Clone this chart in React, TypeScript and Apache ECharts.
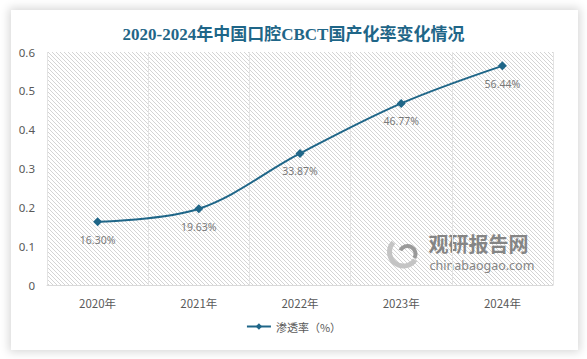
import React, { useEffect, useRef } from "react";
import * as echarts from "echarts";

const categories = ["2020年", "2021年", "2022年", "2023年", "2024年"];
const rates = [0.163, 0.1963, 0.3387, 0.4677, 0.5644];
const rateLabels = ["16.30%", "19.63%", "33.87%", "46.77%", "56.44%"];
const seriesName = "渗透率（%）";
const titleText = "2020-2024年中国口腔CBCT国产化率变化情况";

function makeHatch(): string {
  const c = document.createElement("canvas");
  c.width = 4;
  c.height = 4;
  const ctx = c.getContext("2d")!;
  ctx.fillStyle = "#ffffff";
  ctx.fillRect(0, 0, 4, 4);
  ctx.fillStyle = "#d4d4d4";
  for (let i = 0; i < 4; i++) ctx.fillRect(i, i, 1, 1);
  return c.toDataURL();
}

export default function App() {
  const ref = useRef<HTMLDivElement>(null);
  useEffect(() => {
    if (!ref.current) return;
    const chart = echarts.init(ref.current, null, { renderer: "svg" });
    const hatch = makeHatch();
    chart.setOption({
      animation: false,
      title: {
        text: titleText,
        left: "center",
        top: 21,
        textStyle: {
          fontFamily: "'Liberation Serif', 'Noto Sans CJK SC', serif",
          fontWeight: "bold",
          fontSize: 17,
          color: "#1f6688",
        },
      },
      grid: {
        left: 47,
        right: 34,
        top: 52,
        bottom: 74,
        show: true,
        borderWidth: 0,
        backgroundColor: { image: hatch, repeat: "repeat", imageWidth: 4, imageHeight: 4 } as any,
      },
      legend: {
        bottom: 22,
        left: "center",
        itemWidth: 24,
        itemHeight: 8,
        itemGap: 4,
        data: [seriesName],
        textStyle: { fontSize: 11, color: "#595959", fontFamily: "'Noto Sans CJK SC', sans-serif" },
      },
      xAxis: {
        type: "category",
        data: categories,
        boundaryGap: true,
        axisLine: { show: true, lineStyle: { color: "#d9d9d9" } },
        axisTick: { show: false },
        splitLine: { show: true, lineStyle: { color: "#e3e3e3" } },
        axisLabel: {
          color: "#595959",
          fontSize: 11.5,
          margin: 12,
          fontFamily: "'Noto Sans CJK SC', sans-serif",
        },
      },
      yAxis: {
        type: "value",
        min: 0,
        max: 0.6,
        interval: 0.1,
        axisLine: { show: false },
        axisTick: { show: false },
        splitLine: { show: false },
        axisLabel: {
          color: "#595959",
          fontSize: 11.5,
          margin: 12,
          fontFamily: "'Noto Sans', sans-serif",
          formatter: (v: number) => String(Math.round(v * 10) / 10),
        },
      },
      series: [
        {
          name: seriesName,
          type: "line",
          data: rates,
          smooth: 0.35,
          symbol: "diamond",
          symbolSize: 9,
          itemStyle: { color: "#1f6688" },
          lineStyle: { color: "#1f6688", width: 2 },
          label: {
            show: true,
            position: "bottom",
            distance: 8,
            color: "#7a7a7a",
            fontSize: 10.5,
            fontFamily: "'Noto Sans', sans-serif",
            formatter: (p: any) => rateLabels[p.dataIndex],
          },
        },
      ],
      graphic: [
        {
          type: "group",
          left: 387,
          top: 233,
          silent: true,
          children: [
            {
              type: "arc",
              shape: { cx: 18, cy: 19, r: 14, startAngle: 0.6, endAngle: 3.9 },
              style: { stroke: "#c4c4c4", lineWidth: 5, fill: "none" },
            },
            {
              type: "arc",
              shape: { cx: 22, cy: 21, r: 8, startAngle: 3.6, endAngle: 6.8 },
              style: { stroke: "#9a9a9a", lineWidth: 4, fill: "none" },
            },
            {
              type: "text",
              x: 43,
              y: 0,
              style: {
                text: "观研报告网",
                font: "bold 20px 'Noto Sans CJK SC', sans-serif",
                lineHeight: 20,
                fill: "#858585",
              },
            },
            {
              type: "text",
              x: 44,
              y: 26,
              style: {
                text: "chinabaogao.com",
                font: "12.5px 'Noto Sans', sans-serif",
                lineHeight: 13,
                fill: "#858585",
              },
            },
          ],
        },
      ],
    });
    return () => chart.dispose();
  }, []);
  return (
    <div style={{ position: "absolute", left: 0, top: 0, width: 587, height: 359, background: "#ffffff" }}>
      <div
        style={{
          position: "absolute",
          left: 11,
          top: 10,
          width: 567,
          height: 340,
          background: "#ffffff",
          boxShadow: "0 0 9px 2px rgba(0,0,0,0.16)",
        }}
      />
      <div ref={ref} style={{ position: "absolute", left: 0, top: 0, width: 587, height: 359 }} />
    </div>
  );
}
